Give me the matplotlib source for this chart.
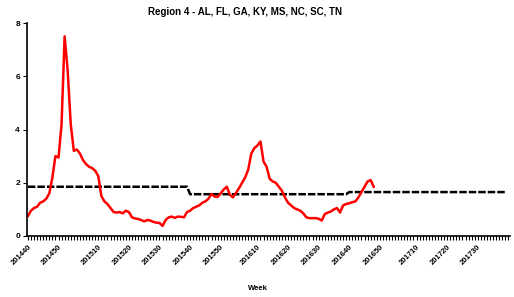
import numpy as np
import matplotlib
matplotlib.use('Agg')
import matplotlib.pyplot as plt

# weekly ILI % for Region 4, starting week 201440 (2014 has 53 weeks)
ili = [0.75, 0.95, 1.05, 1.1, 1.25, 1.3, 1.4, 1.6, 2.2, 3.0,
       2.95, 4.2, 7.5, 6.2, 4.2, 3.2, 3.25, 3.1, 2.85, 2.7,
       2.6, 2.55, 2.45, 2.25, 1.5, 1.3, 1.2, 1.05, 0.9, 0.88,
       0.9, 0.85, 0.95, 0.9, 0.7, 0.66, 0.64, 0.6, 0.55, 0.6,
       0.58, 0.53, 0.5, 0.49, 0.38, 0.6, 0.7, 0.73, 0.68, 0.73,
       0.72, 0.7, 0.9, 0.95, 1.05, 1.1, 1.15, 1.25, 1.3, 1.4,
       1.58, 1.48, 1.47, 1.6, 1.75, 1.85, 1.55, 1.45, 1.62, 1.8,
       2.0, 2.2, 2.5, 3.1, 3.3, 3.4, 3.55, 2.8, 2.6, 2.15,
       2.05, 2.0, 1.85, 1.7, 1.45, 1.25, 1.15, 1.05, 1.0, 0.95,
       0.85, 0.7, 0.67, 0.67, 0.67, 0.65, 0.58, 0.82, 0.88, 0.92,
       1.0, 1.05, 0.88, 1.15, 1.2, 1.23, 1.27, 1.3, 1.45, 1.65,
       1.85, 2.05, 2.1, 1.85]

# season baselines and how many weeks each one covers
baseline_values = [1.85, 1.57, 1.65]
baseline_weeks = [53, 52, 52]

tick_labels = ['201440', '201450', '201510', '201520', '201530', '201540',
               '201550', '201610', '201620', '201630', '201640', '201650',
               '201710', '201720', '201730']
tick_index = [0, 10, 23, 33, 43, 53, 63, 75, 85, 95, 105, 115, 127, 137, 147]

plt.rcParams['font.family'] = ['Liberation Sans', 'DejaVu Sans']

x_ili = np.arange(len(ili))
baseline = np.repeat(baseline_values, baseline_weeks)
x_base = np.arange(len(baseline))

fig = plt.figure(figsize=(5.14, 2.97), dpi=100)
ax = fig.add_axes([0.0525, 0.2054, 0.9395, 0.717])

ax.plot(x_base, baseline, color='black', lw=1.8, ls=(0, (3, 0.8)))
ax.plot(x_ili, ili, color='#ff0000', lw=1.8)

ax.set_xlim(-0.3, 157.5)
ax.set_ylim(0, 8)
ax.set_yticks([0, 2, 4, 6, 8])
ax.set_xticks(tick_index)
ax.set_xticklabels(tick_labels, rotation=45, ha='right', rotation_mode='anchor',
                   fontsize=5.5, fontweight='bold')
ax.set_xticks(np.arange(0, 158), minor=True)
ax.tick_params(axis='x', which='both', length=3, width=0.8, direction='out', pad=2)
ax.tick_params(axis='y', length=3, width=0.8, labelsize=6, pad=2)
for lbl in ax.get_yticklabels():
    lbl.set_fontweight('bold')

for s in ['top', 'right']:
    ax.spines[s].set_visible(False)
for s in ['left', 'bottom']:
    ax.spines[s].set_linewidth(1.2)

fig.text(0.477, 0.96, 'Region 4 - AL, FL, GA, KY, MS, NC, SC, TN',
         ha='center', va='center', fontsize=7, fontweight='bold')
fig.text(0.502, 0.027, 'Week', ha='center', va='center', fontsize=5.5,
         fontweight='bold')

fig.savefig('out.png', dpi=100)
